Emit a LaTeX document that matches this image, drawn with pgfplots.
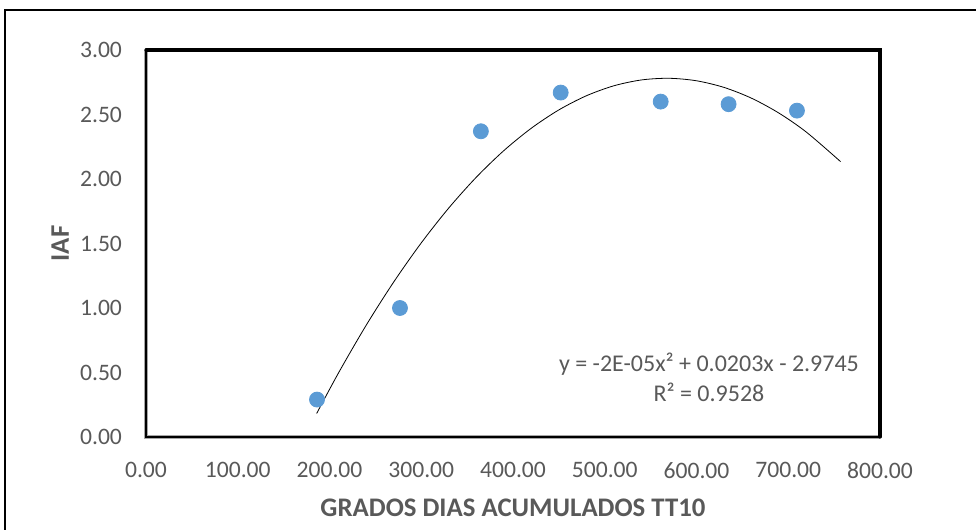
\documentclass[border=0pt]{standalone}
\usepackage{fontspec}
\setmainfont{Carlito}
\usepackage{pgfplots}
\pgfplotsset{compat=1.18}
\definecolor{tickgray}{HTML}{595959}
\definecolor{ptblue}{HTML}{5B9BD5}
\definecolor{framegray}{HTML}{A6A6A6}
\begin{document}
\begin{tikzpicture}
\useasboundingbox (0,0) rectangle (488pt,265pt);
% outer chart border
\draw[line width=1pt,black] (2.5pt,-5pt) rectangle (495pt,260pt);
\begin{axis}[
  at={(73pt,46.5pt)}, anchor=south west,
  scale only axis, width=367pt, height=193.5pt,
  xmin=0, xmax=800, ymin=0, ymax=3,
  xtick={0,100,...,800}, ytick={0,0.5,...,3},
  major tick length=0pt,
  axis line style={draw=none},
  tick label style={font=\fontsize{11.8}{13}\selectfont, text=tickgray},
  /pgf/number format/assume math mode=true,
  xticklabel={\pgfmathprintnumber[fixed,fixed zerofill,precision=2]{\tick}},
  yticklabel={\pgfmathprintnumber[fixed,fixed zerofill,precision=2]{\tick}},
  xticklabel style={yshift=-9pt},
  yticklabel style={xshift=-8.5pt},
  xlabel={GRADOS DIAS ACUMULADOS TT10},
  ylabel={IAF},
  label style={font=\fontsize{13.4}{15}\selectfont\bfseries, text=tickgray},
  xlabel style={at={(axis description cs:0.5,-0.1835)}, anchor=center},
  ylabel style={at={(axis description cs:-0.117,0.5)}, anchor=center, rotate=0},
  clip=false,
]
% plot frame: double grey/black on left and bottom, heavy black on top and right
\draw[line width=1.6pt, framegray] (rel axis cs:0,1) -- (rel axis cs:0,0) -- (rel axis cs:1,0);
\draw[line width=0.6pt, black] (rel axis cs:0,1) -- (rel axis cs:0,0) -- (rel axis cs:1,0);
\draw[line width=1.6pt, black, line cap=round] (rel axis cs:0,1) -- (rel axis cs:1,1) -- (rel axis cs:1,0);

% polynomial trend line (order 2)
\addplot[black, line width=0.4pt, smooth] coordinates {
  (186,0.182) (210,0.499) (240,0.8665) (270,1.2016) (300,1.5045)
  (330,1.7752) (360,2.0137) (390,2.2199) (420,2.3939) (450,2.5357)
  (480,2.6453) (510,2.7227) (540,2.7679) (570,2.7808) (600,2.7615)
  (630,2.71) (660,2.6263) (690,2.5103) (720,2.3621) (757,2.135)
};

% observed leaf area index
\addplot[only marks, mark=*, mark size=3.75pt, ptblue, mark options={draw=ptblue, fill=ptblue}] coordinates {
  (186.4,0.29) (276.8,1.00) (365,2.37) (452,2.67) (561,2.60) (635,2.58) (709.5,2.53)
};

\node[align=center, text=tickgray, font=\fontsize{12}{15}\selectfont] at (axis cs:613.6,0.465)
  {y = -2E-05x² + 0.0203x - 2.9745\\R² = 0.9528};
\end{axis}
\end{tikzpicture}
\end{document}
